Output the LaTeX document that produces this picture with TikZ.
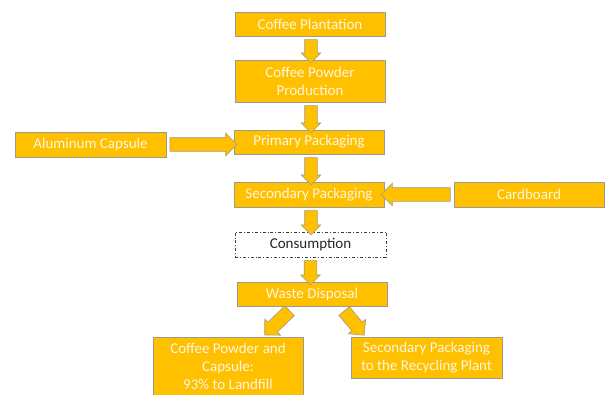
\documentclass[tikz,border=0pt]{standalone}
\usepackage{fontspec}
\setmainfont{Carlito}
\usetikzlibrary{shapes.arrows,calc}
\definecolor{gold}{HTML}{FFC000}
\definecolor{edgec}{HTML}{A09A8A}
\definecolor{txtc}{HTML}{FFF6E0}
\tikzset{
 box/.style={draw=edgec, line width=0.8pt, fill=gold, text=txtc, minimum width=150pt, minimum height=24pt, inner sep=0pt, align=center, font=\fontsize{15}{18}\selectfont},
 dbox/.style={box, draw=black!75, dash dot, fill=white, text=black!85},
 blk/.style={single arrow, draw=edgec, line width=0.6pt, fill=gold, inner sep=0pt, text height=6pt, text depth=6pt, text width=0pt, single arrow head extend=3.5pt, single arrow tip angle=90, anchor=center},
 wideblk/.style={text height=6.5pt, text depth=6.5pt, single arrow head extend=4.5pt},
}
\newcommand\blockarrow[3][]{%
 \path let \p1=(#2), \p2=(#3), \n1={atan2(\y2-\y1,\x2-\x1)}, \n2={veclen(\x2-\x1,\y2-\y1)} in
   node[blk, rotate=\n1, minimum height=\n2, #1] at ($(#2)!0.5!(#3)$) {};}
\begin{document}
\begin{tikzpicture}[x=1pt,y=-1pt]
\useasboundingbox (0,0) rectangle (610,394);
\clip (0,0) rectangle (610,394);
\node[box] (cp) at (310,24) {Coffee Plantation};
\node[box, minimum height=42pt] (cpp) at (310,81) {Coffee Powder\\Production};
\node[box] (pp) at (309,142) {Primary Packaging};
\node[box, minimum width=151pt, minimum height=25pt] (al) at (90.5,144.5) {Aluminum Capsule};
\node[box, minimum height=25pt] (sp) at (309,194.5) {Secondary Packaging};
\node[box, minimum height=25pt] (cb) at (529,194.5) {Cardboard};
\node[dbox, minimum width=151pt, minimum height=25pt] (con) at (310.5,244.5) {Consumption};
\node[box] (wd) at (312,294) {Waste Disposal};
\node[box, minimum height=58pt] (lb) at (228,366) {Coffee Powder and\\Capsule:\\93\% to Landfill};
\node[box, minimum width=151pt, minimum height=41pt] (rb) at (426.5,357.5) {Secondary Packaging\\to the Recycling Plant};
\coordinate (a1s) at ($(cp.south)+(1,0)$);
\coordinate (a1e) at ($(cpp.north)+(1,0)$);
\blockarrow{a1s}{a1e}
\coordinate (a2s) at ($(cpp.south)+(1,0)$);
\coordinate (a2e) at (a2s |- pp.north);
\blockarrow{a2s}{a2e}
\coordinate (a3s) at ($(pp.south)+(2,0)$);
\coordinate (a3e) at ($(sp.north)+(2,0)$);
\blockarrow{a3s}{a3e}
\coordinate (a4s) at ($(sp.south)+(2,0)$);
\coordinate (a4e) at (a4s |- con.north);
\blockarrow{a4s}{a4e}
\coordinate (a5s) at (con.south);
\coordinate (a5e) at (a5s |- wd.north);
\blockarrow{a5s}{a5e}
\coordinate (hle) at (pp.west |- al.east);
\blockarrow[wideblk]{al.east}{hle}
\blockarrow[wideblk]{cb.west}{sp.east}
\coordinate (d1s) at ($(wd.south)+(-20,2)$);
\coordinate (d1e) at ($(lb.north)+(39,-4)$);
\blockarrow[wideblk]{d1s}{d1e}
\coordinate (d2s) at ($(wd.south)+(30,2)$);
\coordinate (d2e) at ($(rb.north)+(-64.5,-4)$);
\blockarrow[wideblk]{d2s}{d2e}
\end{tikzpicture}
\end{document}
